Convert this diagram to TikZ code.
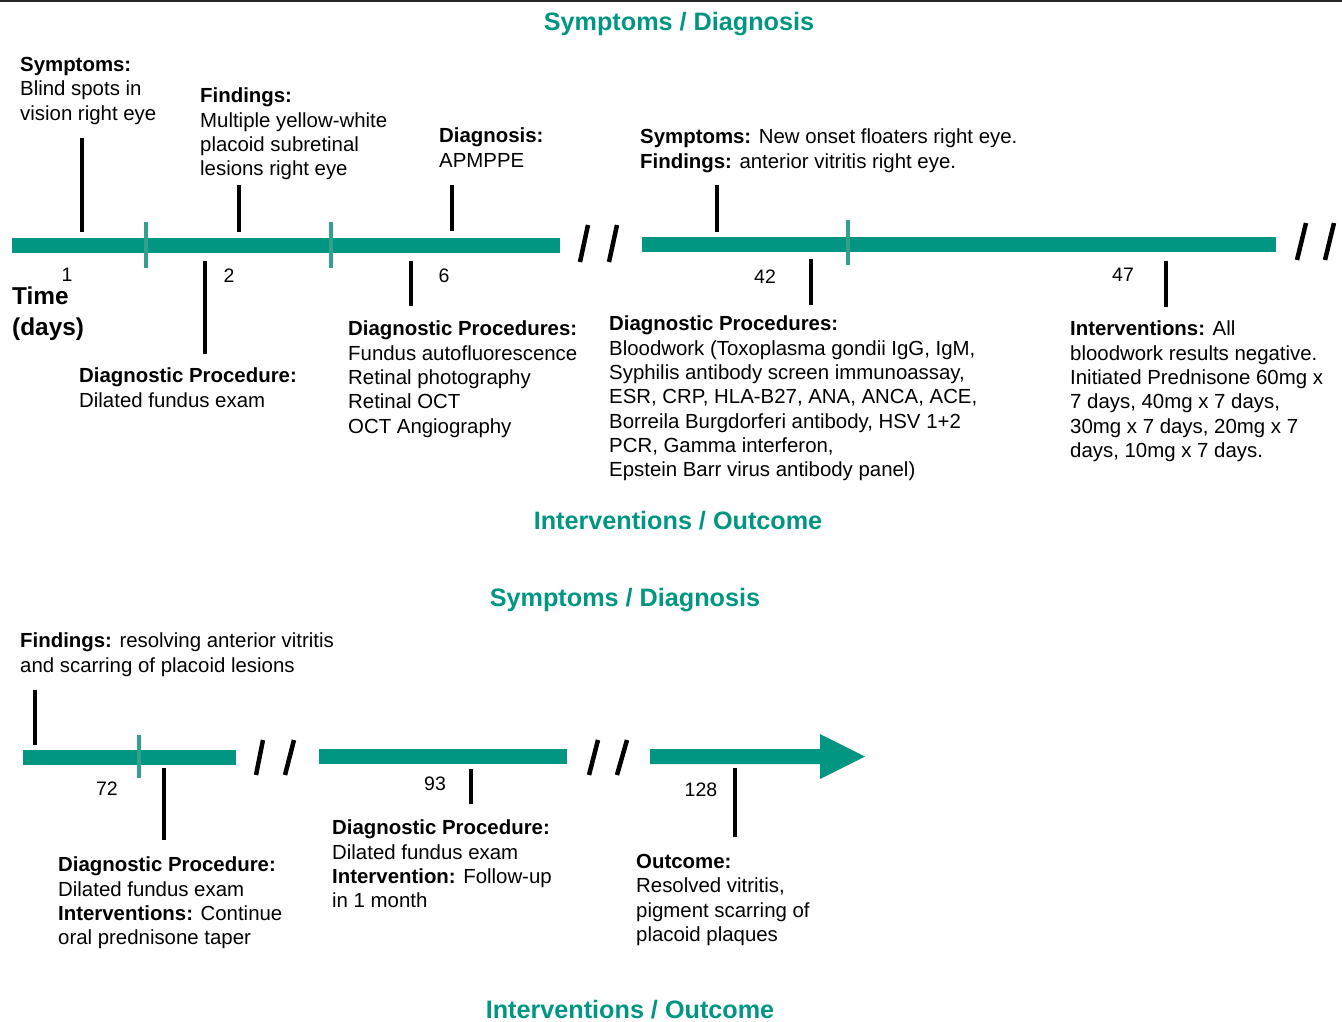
\documentclass[tikz,border=0pt]{standalone}
\usepackage{fontspec}
\setmainfont{Liberation Sans}
\definecolor{tealbar}{RGB}{0,150,130}
\definecolor{tealmark}{RGB}{52,160,140}
\tikzset{
  bar/.style={fill=tealbar},
  daytick/.style={line width=3.6pt},
  segmark/.style={draw=tealmark,line width=3.2pt},
  cut/.style={line width=4.5pt},
  txt/.style={anchor=north west,inner sep=0pt,align=left,font=\fontsize{20.4}{24.3}\selectfont},
  num/.style={inner sep=0pt,font=\fontsize{19.5}{20}\selectfont},
  ttl/.style={inner sep=0pt,text=tealbar,font=\fontsize{25.2}{30}\selectfont\bfseries},
}
\begin{document}
\begin{tikzpicture}[x=1pt,y=-1pt]
		\useasboundingbox (0,0) rectangle (1342,1022);
		\draw[line width=2pt,black!85] (0,1) -- (1342,1);
		
		% upper timeline
		\node[ttl] (sd1) at (679,24.5) {Symptoms / Diagnosis};
		\node[ttl] (io1) at (678,521) {Interventions / Outcome};
		
		\fill[bar] (12,238) rectangle (560,253);
		\fill[bar] (642,237) rectangle (1276,252);
		\draw[segmark] (146,222) -- (146,268);
		\draw[segmark] (331,222) -- (331,268);
		\draw[segmark] (848,220) -- (848,265);
		
		\draw[cut] (588,225) -- (580,262);
		\draw[cut] (617,225) -- (609,262);
		\draw[cut] (1306,223) -- (1297,260);
		\draw[cut] (1334,223) -- (1325,260);
		
		\draw[daytick] (82,138) -- (82,232);
		\draw[daytick] (239,185) -- (239,232);
		\draw[daytick] (452,185) -- (452,231);
		\draw[daytick] (717,185) -- (717,232);
		\draw[daytick] (205,261) -- (205,354);
		\draw[daytick] (411,261) -- (411,306);
		\draw[daytick] (811,259) -- (811,305);
		\draw[daytick] (1166,261) -- (1166,307);
		
		\node[num] (d1) at (67,275) {1};
		\node[num] (d2) at (229,276) {2};
		\node[num] (d6) at (444,276) {6};
		\node[num] (d42) at (765,277) {42};
		\node[num] (d47) at (1123,275) {47};
		\node[anchor=north west,inner sep=0pt,align=left,font=\fontsize{24.4}{31}\selectfont\bfseries] (time) at (12,286.5) {Time\\(days)};
		
		\node[txt] (sym1) at (20,57) {\textbf{Symptoms:}\\Blind spots in\\vision right eye};
		\node[txt] (fnd1) at (200,88) {\textbf{Findings:}\\Multiple yellow-white\\placoid subretinal\\lesions right eye};
		\node[txt] (dgn1) at (439,128) {\textbf{Diagnosis:}\\APMPPE};
		\node[txt] (sym2) at (640,129) {\textbf{Symptoms:} New onset floaters right eye.\\\textbf{Findings:} anterior vitritis right eye.};
		\node[txt] (dp1) at (79,368) {\textbf{Diagnostic Procedure:}\\Dilated fundus exam};
		\node[txt] (dp2) at (348,321) {\textbf{Diagnostic Procedures:}\\Fundus autofluorescence\\Retinal photography\\Retinal OCT\\OCT Angiography};
		\node[txt] (dp3) at (609,316) {\textbf{Diagnostic Procedures:}\\Bloodwork (Toxoplasma gondii IgG, IgM,\\Syphilis antibody screen immunoassay,\\ESR, CRP, HLA-B27, ANA, ANCA, ACE,\\Borreila Burgdorferi antibody, HSV 1+2\\PCR, Gamma interferon,\\Epstein Barr virus antibody panel)};
		\node[txt] (int1) at (1070,321) {\textbf{Interventions:} All\\bloodwork results negative.\\Initiated Prednisone 60mg x\\7 days, 40mg x 7 days,\\30mg x 7 days, 20mg x 7\\days, 10mg x 7 days.};
		
		% lower timeline
		\node[ttl] (sd2) at (625,600.5) {Symptoms / Diagnosis};
		\node[ttl] (io2) at (630,1009.5) {Interventions / Outcome};
		
		\fill[bar] (23,750) rectangle (236,765);
		\fill[bar] (319,749) rectangle (567,764);
		\fill[bar] (650,749) -- (820,749) -- (820,734) -- (865,756.5) -- (820,779) -- (820,764) -- (650,764) -- cycle;
		\draw[segmark] (139,735) -- (139,778);
		
		\draw[cut] (263,740) -- (256,775);
		\draw[cut] (294,740) -- (285,775);
		\draw[cut] (598,740) -- (589,775);
		\draw[cut] (627,740) -- (617,775);
		
		\draw[daytick] (35,690) -- (35,745);
		\draw[daytick] (164,768) -- (164,840);
		\draw[daytick] (471,769) -- (471,804);
		\draw[daytick] (735,768) -- (735,837);
		
		\node[num] (d72) at (107,789) {72};
		\node[num] (d93) at (435,784) {93};
		\node[num] (d128) at (701,790) {128};
		
		\node[txt] (fnd2) at (20,633) {\textbf{Findings:} resolving anterior vitritis\\and scarring of placoid lesions};
		\node[txt] (dp4) at (58,857) {\textbf{Diagnostic Procedure:}\\Dilated fundus exam\\\textbf{Interventions:} Continue\\oral prednisone taper};
		\node[txt] (dp5) at (332,820) {\textbf{Diagnostic Procedure:}\\Dilated fundus exam\\\textbf{Intervention:} Follow-up\\in 1 month};
		\node[txt] (out1) at (636,854) {\textbf{Outcome:}\\Resolved vitritis,\\pigment scarring of\\placoid plaques};
\end{tikzpicture}
\end{document}
